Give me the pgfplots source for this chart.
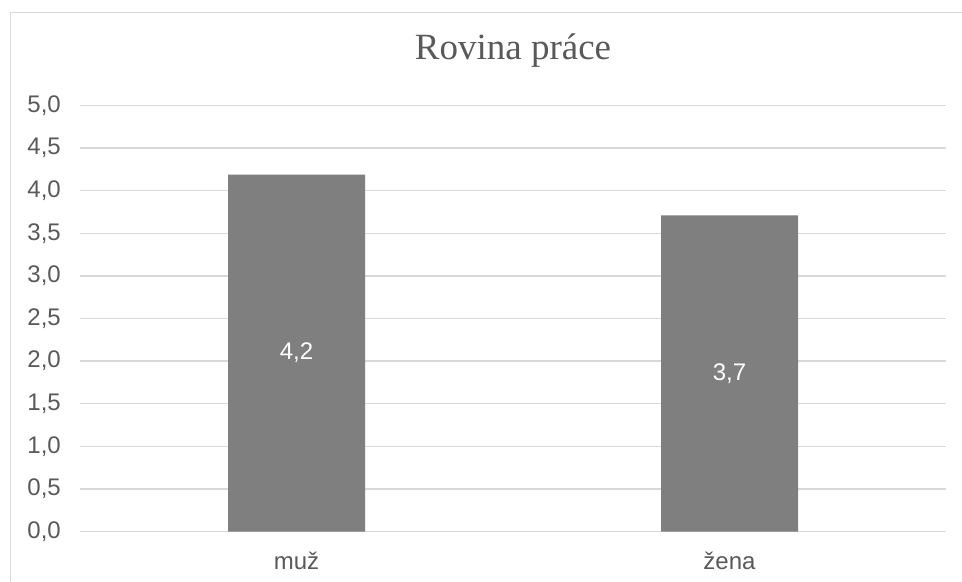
\documentclass[border=0pt]{standalone}
\usepackage{fontspec}
\setmainfont{Liberation Sans}
\newfontfamily\titlefont{Liberation Serif}
\usepackage{pgfplots}
\pgfplotsset{compat=1.18}
\definecolor{barcol}{HTML}{7F7F7F}
\definecolor{gridcol}{HTML}{D9D9D9}
\definecolor{txtcol}{HTML}{595959}
\begin{document}
\begin{tikzpicture}[x=1bp,y=1bp]
\useasboundingbox (0,0) rectangle (962,-582);
% chart frame (only left and top edges are visible)
\draw[gridcol, line width=1.3bp] (10.5,-582) -- (10.5,-12.5) -- (962,-12.5);
\begin{axis}[
  at={(80bp,-531.5bp)}, anchor=south west,
  scale only axis, width=866bp, height=426bp,
  xmin=-0.5, xmax=1.5,
  ymin=0, ymax=5,
  xtick={0,1}, xticklabels={muž,žena},
  ytick={0,0.5,...,5},
  ymajorgrids=true,
  grid style={gridcol, line width=1.3bp},
  axis line style={draw=none},
  major tick length=0pt,
  /pgf/number format/assume math mode=true,
  ticklabel style={font=\fontsize{24bp}{26bp}\selectfont, text=txtcol, inner sep=0pt},
  yticklabel style={anchor=east, xshift=-19bp,
    /pgf/number format/fixed, /pgf/number format/fixed zerofill,
    /pgf/number format/precision=1, /pgf/number format/use comma},
  xticklabel style={anchor=base, yshift=-37.5bp},
  title={Rovina práce},
  title style={at={(0.5,1)}, anchor=base, yshift=40.5bp,
    font=\titlefont\fontsize{37bp}{40bp}\selectfont, text=txtcol},
  clip=false,
]
\addplot[ybar, bar width=137bp, fill=barcol, draw=none,
  nodes near coords,
  visualization depends on=y \as \rawy,
  every node near coord/.append style={anchor=center, text=white,
    font=\fontsize{24bp}{26bp}\selectfont,
    shift={(axis direction cs:0,-\rawy/2)},
    /pgf/number format/assume math mode=true,
    /pgf/number format/fixed, /pgf/number format/fixed zerofill,
    /pgf/number format/precision=1, /pgf/number format/use comma},
] coordinates {(0,4.19) (1,3.71)};
\end{axis}
\end{tikzpicture}
\end{document}
